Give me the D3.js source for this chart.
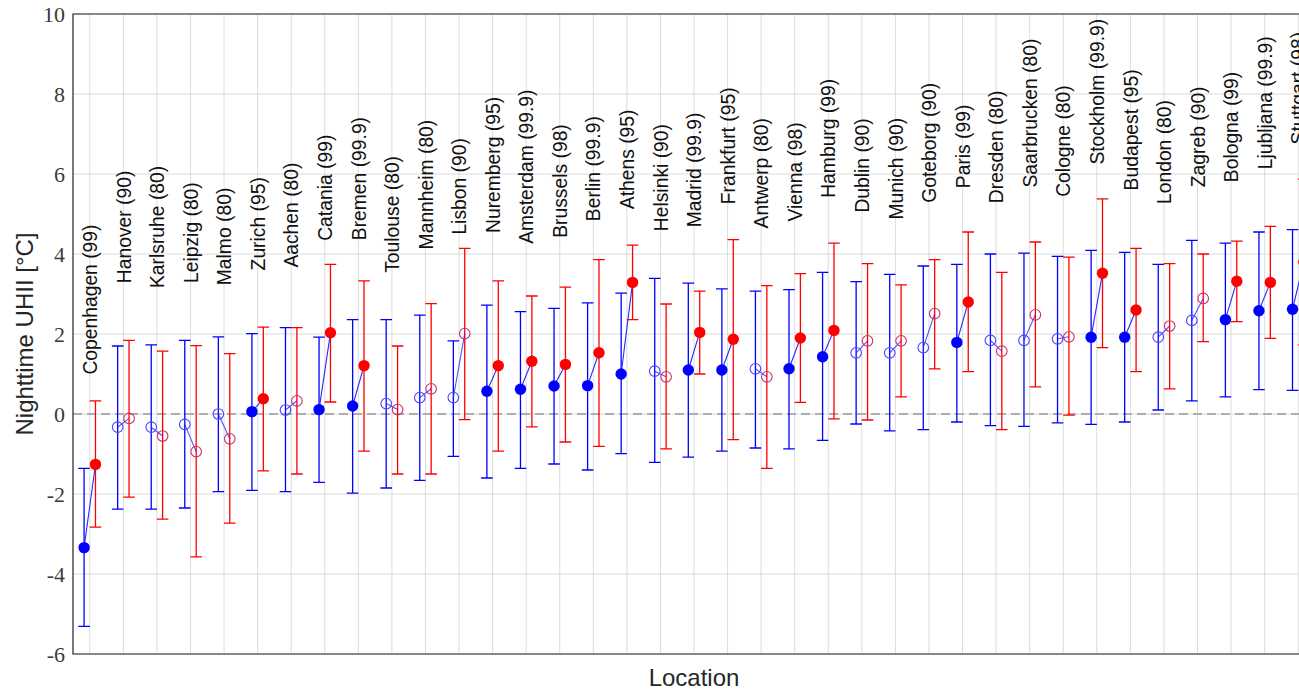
<!DOCTYPE html>
<html>
<head>
<meta charset="utf-8">
<script src="https://cdn.jsdelivr.net/npm/d3@7"></script>
<style>
  body { margin: 0; background: #fff; }
  svg { display: block; }
</style>
</head>
<body>
<svg id="chart"></svg>
<script>
// cities sorted by the blue (left) estimate, with the confidence level in brackets
const cities = ["Copenhagen", "Hanover", "Karlsruhe", "Leipzig", "Malmo", "Zurich", "Aachen",
  "Catania", "Bremen", "Toulouse", "Mannheim", "Lisbon", "Nuremberg", "Amsterdam", "Brussels",
  "Berlin", "Athens", "Helsinki", "Madrid", "Frankfurt", "Antwerp", "Vienna", "Hamburg", "Dublin",
  "Munich", "Goteborg", "Paris", "Dresden", "Saarbrucken", "Cologne", "Stockholm", "Budapest",
  "London", "Zagreb", "Bologna", "Ljubljana", "Stuttgart"];
const levels = [99, 90, 80, 80, 80, 95, 80, 99, 99.9, 80, 80, 90, 95, 99.9, 98, 99.9, 95, 90, 99.9,
  95, 80, 98, 99, 90, 90, 90, 99, 80, 80, 80, 99.9, 95, 80, 90, 99, 99.9, 98];

// blue series: estimate and error bar ends
const blueVal = [-3.34, -0.33, -0.33, -0.26, 0.0, 0.06, 0.1, 0.11, 0.2, 0.26, 0.41, 0.41, 0.57, 0.62,
  0.7, 0.71, 1.0, 1.07, 1.1, 1.1, 1.13, 1.13, 1.43, 1.53, 1.53, 1.66, 1.79, 1.84, 1.84, 1.88, 1.92,
  1.92, 1.92, 2.34, 2.36, 2.58, 2.62];
const blueLo = [-5.31, -2.38, -2.38, -2.35, -1.94, -1.91, -1.94, -1.71, -1.98, -1.85, -1.66, -1.06,
  -1.6, -1.36, -1.25, -1.4, -0.99, -1.21, -1.08, -0.93, -0.85, -0.87, -0.66, -0.25, -0.42, -0.39,
  -0.2, -0.29, -0.31, -0.22, -0.26, -0.2, 0.1, 0.33, 0.43, 0.61, 0.59];
const blueHi = [-1.36, 1.7, 1.73, 1.84, 1.93, 2.01, 2.16, 1.92, 2.36, 2.36, 2.47, 1.83, 2.72, 2.56,
  2.64, 2.78, 3.02, 3.39, 3.27, 3.13, 3.07, 3.11, 3.54, 3.31, 3.49, 3.7, 3.74, 4.0, 4.02, 3.94, 4.09,
  4.04, 3.74, 4.34, 4.27, 4.55, 4.61];

// red series: estimate and error bar ends
const redVal = [-1.26, -0.11, -0.55, -0.94, -0.62, 0.38, 0.33, 2.03, 1.21, 0.11, 0.63, 2.01, 1.21,
  1.32, 1.24, 1.53, 3.29, 0.93, 2.04, 1.87, 0.93, 1.9, 2.09, 1.83, 1.83, 2.51, 2.8, 1.57, 2.48, 1.93,
  3.52, 2.6, 2.2, 2.89, 3.32, 3.29, 3.8];
const redLo = [-2.83, -2.08, -2.63, -3.57, -2.73, -1.42, -1.5, 0.3, -0.93, -1.5, -1.5, -0.14, -0.93,
  -0.32, -0.7, -0.81, 2.36, -0.87, 1.0, -0.64, -1.36, 0.29, -0.12, -0.15, 0.43, 1.13, 1.06, -0.39,
  0.68, -0.03, 1.66, 1.06, 0.63, 1.81, 2.31, 1.89, 1.73];
const redHi = [0.33, 1.84, 1.57, 1.71, 1.51, 2.17, 2.16, 3.74, 3.33, 1.7, 2.76, 4.14, 3.33, 2.95,
  3.17, 3.86, 4.22, 2.75, 3.07, 4.36, 3.21, 3.51, 4.27, 3.76, 3.23, 3.86, 4.55, 3.54, 4.3, 3.92, 5.38,
  4.14, 3.76, 4.0, 4.32, 4.69, 5.87];

const yTicks = [-6, -4, -2, 0, 2, 4, 6, 8, 10];

const W = 1299, H = 690;
const margin = { top: 14, left: 73 };
const plotW = 1242, plotH = 640;

const svg = d3.select("#chart").attr("width", W).attr("height", H);
const g = svg.append("g").attr("transform", `translate(${margin.left},${margin.top})`);

const x = d3.scaleBand().domain(cities).range([0, plotW]);
const y = d3.scaleLinear().domain([-6, 10]).range([plotH, 0]);
const cx = c => x(c) + x.bandwidth() / 2;
const dodge = 5.7, cap = 5.8, r = 5.7;

const data = cities.map((c, i) => ({
  city: c,
  level: levels[i],
  filled: levels[i] >= 95,
  blue: { v: blueVal[i], lo: blueLo[i], hi: blueHi[i] },
  red: { v: redVal[i], lo: redLo[i], hi: redHi[i] }
}));

// grid
g.append("g").selectAll("line").data(yTicks).enter().append("line")
  .attr("x1", 0).attr("x2", plotW)
  .attr("y1", d => y(d)).attr("y2", d => y(d))
  .attr("stroke", "#dcdcdc").attr("stroke-width", 1);
g.append("g").selectAll("line").data(cities).enter().append("line")
  .attr("x1", d => cx(d)).attr("x2", d => cx(d))
  .attr("y1", 0).attr("y2", plotH)
  .attr("stroke", "#dcdcdc").attr("stroke-width", 1);

// zero line
g.append("line")
  .attr("x1", 0).attr("x2", plotW)
  .attr("y1", y(0)).attr("y2", y(0))
  .attr("stroke", "#9a9a9a").attr("stroke-width", 1.5)
  .attr("stroke-dasharray", "9,5");

// y axis
const yAxis = g.append("g")
  .call(d3.axisLeft(y).tickValues(yTicks).tickSize(0).tickPadding(8).tickFormat(d => String(d)));
yAxis.select(".domain").remove();
yAxis.selectAll("text")
  .attr("font-family", "'Liberation Serif', 'DejaVu Serif', serif")
  .attr("font-size", 22)
  .attr("fill", "#3a3a3a");

// frame
g.append("path")
  .attr("d", `M${plotW},0H0V${plotH}H${plotW}`)
  .attr("fill", "none").attr("stroke", "#222").attr("stroke-width", 1.2);

// error bars
const series = [
  { key: "blue", color: "#0000ff", off: -dodge },
  { key: "red", color: "#ff0000", off: dodge }
];
series.forEach(s => {
  const eb = g.append("g").attr("stroke", s.color).attr("stroke-width", 1.3).attr("fill", "none");
  eb.selectAll(".bar").data(data).enter().append("path")
    .attr("class", "bar")
    .attr("d", d => {
      const xx = cx(d.city) + s.off;
      const lo = y(d[s.key].lo), hi = y(d[s.key].hi);
      return `M${xx - cap},${hi}H${xx + cap}M${xx},${hi}V${lo}M${xx - cap},${lo}H${xx + cap}`;
    });
});

// connecting lines
g.append("g").selectAll("line").data(data).enter().append("line")
  .attr("x1", d => cx(d.city) - dodge).attr("y1", d => y(d.blue.v))
  .attr("x2", d => cx(d.city) + dodge).attr("y2", d => y(d.red.v))
  .attr("stroke", "#2a2aff").attr("stroke-width", 1.1)
  .attr("opacity", d => d.filled ? 1 : 0.8);

// points
const openStroke = { blue: "#4646ff", red: "#c8306a" };
series.forEach(s => {
  g.append("g").selectAll("circle").data(data).enter().append("circle")
    .attr("cx", d => cx(d.city) + s.off)
    .attr("cy", d => y(d[s.key].v))
    .attr("r", d => d.filled ? r : r - 0.4)
    .attr("fill", d => d.filled ? s.color : "none")
    .attr("stroke", d => d.filled ? "none" : openStroke[s.key])
    .attr("stroke-width", 1.1);
});

// city labels, above the mean of the two upper error bar ends
g.append("g").selectAll("text").data(data).enter().append("text")
  .attr("transform", d => {
    const top = (d.blue.hi + d.red.hi) / 2 + 1.5;
    return `translate(${cx(d.city) + 7.2},${y(top)}) rotate(-90)`;
  })
  .attr("text-anchor", "start")
  .attr("font-family", "'Liberation Sans', Arial, sans-serif")
  .attr("font-size", 19.3)
  .attr("fill", "#111")
  .text(d => `${d.city} (${d.level})`);

// axis titles
svg.append("text")
  .attr("transform", `translate(33,${margin.top + plotH / 2}) rotate(-90)`)
  .attr("text-anchor", "middle")
  .attr("font-family", "'Liberation Sans', Arial, sans-serif")
  .attr("font-size", 24)
  .attr("fill", "#262626")
  .text("Nighttime UHII [°C]");

svg.append("text")
  .attr("x", margin.left + plotW / 2)
  .attr("y", 686)
  .attr("text-anchor", "middle")
  .attr("font-family", "'Liberation Sans', Arial, sans-serif")
  .attr("font-size", 24)
  .attr("fill", "#262626")
  .text("Location");
</script>
</body>
</html>
